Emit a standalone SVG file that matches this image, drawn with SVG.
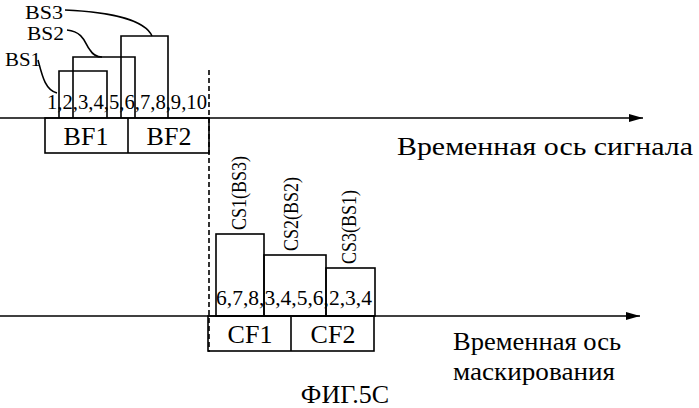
<svg xmlns="http://www.w3.org/2000/svg" width="699" height="408" viewBox="0 0 699 408">
<style>
.l{fill:none;stroke:#000;stroke-width:1.6}
text{font-family:'Liberation Serif','Times New Roman','DejaVu Serif',serif;fill:#000}
.n{font-size:21px}
.s{font-size:18px}
.b{font-size:26px}
</style>
<defs><marker id="a" markerWidth="14" markerHeight="8" refX="14" refY="4" orient="auto" markerUnits="userSpaceOnUse"><path d="M0,0L14,4L0,8z"/></marker></defs>
<rect width="699" height="408" fill="#fff"/>
<g id="connectors">
<line class="l" x1="0" y1="118" x2="643" y2="118" marker-end="url(#a)"/>
<line class="l" x1="0" y1="316" x2="640" y2="316" marker-end="url(#a)"/>
<line class="l" x1="209" y1="70" x2="209" y2="352" stroke-dasharray="5,3"/>
<path class="l" d="M65,10 C110,12 145,20 152,36"/>
<path class="l" d="M67,30 C85,32 85,45 90,50 C93,55 98,57 102,57"/>
<path class="l" d="M38,60 C42,75 45,90 57,93"/>
</g>
<g id="BS1"><path class="l" d="M59,118V71H107V118"/><text x="5" y="66" class="s" textLength="36" lengthAdjust="spacingAndGlyphs">BS1</text></g>
<g id="BS2"><path class="l" d="M73,118V57H135V118"/><text x="27" y="40" class="s" textLength="37" lengthAdjust="spacingAndGlyphs">BS2</text></g>
<g id="BS3"><path class="l" d="M121,118V36H168V118"/><text x="25" y="19" class="s" textLength="38" lengthAdjust="spacingAndGlyphs">BS3</text></g>
<text x="47" y="109" class="n" textLength="160" lengthAdjust="spacingAndGlyphs">1,2,3,4,5,6,7,8,9,10</text>
<g id="BF"><rect class="l" x="45" y="118" width="164" height="35"/><line class="l" x1="128" y1="118" x2="128" y2="153"/>
<text x="86" y="145" class="b" text-anchor="middle">BF1</text><text x="169" y="145" class="b" text-anchor="middle">BF2</text></g>
<g id="CS1"><rect class="l" x="216" y="234" width="48" height="82"/><text transform="translate(246,230) rotate(-90)" class="n" textLength="74" lengthAdjust="spacingAndGlyphs">CS1(BS3)</text></g>
<g id="CS2"><rect class="l" x="264" y="255" width="62" height="61"/><text transform="translate(298,251) rotate(-90)" class="n" textLength="74" lengthAdjust="spacingAndGlyphs">CS2(BS2)</text></g>
<g id="CS3"><rect class="l" x="326" y="268" width="49" height="48"/><text transform="translate(356,264) rotate(-90)" class="n" textLength="74" lengthAdjust="spacingAndGlyphs">CS3(BS1)</text></g>
<text x="216" y="305" class="n" textLength="156" lengthAdjust="spacingAndGlyphs">6,7,8,3,4,5,6,2,3,4</text>
<g id="CF"><rect class="l" x="208" y="316" width="166" height="35"/><line class="l" x1="291" y1="316" x2="291" y2="351"/>
<text x="250" y="343" class="b" text-anchor="middle">CF1</text><text x="333" y="343" class="b" text-anchor="middle">CF2</text></g>
<text x="397" y="155" class="b" textLength="296" lengthAdjust="spacingAndGlyphs">Временная ось сигнала</text>
<text x="453" y="350" class="b" textLength="168" lengthAdjust="spacingAndGlyphs">Временная ось</text>
<text x="453" y="380" class="b" textLength="162" lengthAdjust="spacingAndGlyphs">маскирования</text>
<text x="345" y="403" class="b" text-anchor="middle">ФИГ.5С</text>
</svg>
